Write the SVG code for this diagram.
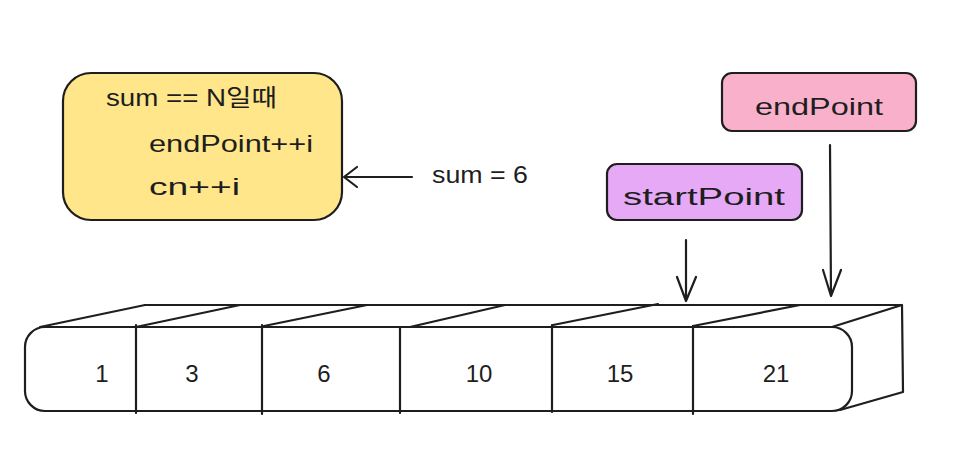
<svg xmlns="http://www.w3.org/2000/svg" width="958" height="472" viewBox="0 0 958 472">
<defs>
<style>
.s{stroke:#1e1e1e;stroke-width:2.2;fill:none;stroke-linecap:round;stroke-linejoin:round}
.t{font-family:"Liberation Sans","Noto Sans CJK KR",sans-serif;fill:#1e1e1e;font-size:24px}
.n{font-family:"Liberation Sans",sans-serif;fill:#1e1e1e;font-size:24px;text-anchor:middle}
</style>
</defs>
<rect width="958" height="472" fill="#ffffff"/>
<g id="note">
<rect x="63" y="73" width="279" height="147" rx="28" class="s" style="fill:#ffe68a"/>
<text class="t" x="106" y="106" textLength="171" lengthAdjust="spacingAndGlyphs">sum == N일때</text>
<text class="t" x="149" y="152" textLength="164" lengthAdjust="spacingAndGlyphs">endPoint++i</text>
<text class="t" x="149" y="195" textLength="91" lengthAdjust="spacingAndGlyphs">cn++i</text>
</g>
<g id="sumlabel">
<text class="t" x="432" y="183" textLength="96" lengthAdjust="spacingAndGlyphs">sum = 6</text>
</g>
<g id="endpoint">
<rect x="722" y="73" width="194" height="58" rx="10" class="s" style="fill:#f9b1cb"/>
<text class="t" x="755" y="115" textLength="128" lengthAdjust="spacingAndGlyphs">endPoint</text>
</g>
<g id="startpoint">
<rect x="607" y="164" width="195" height="56" rx="10" class="s" style="fill:#e6a9f6"/>
<text class="t" x="623" y="205" textLength="162" lengthAdjust="spacingAndGlyphs">startPoint</text>
</g>
<g id="array">
<path class="s" d="M145 305 L902 305 L903 392 M832 327 L902 305 M840 410 L903 392"/>
<path class="s" d="M40 327 L145 305 M136 327 L240 305 M264 326 L367 305 M410 327 L505 305 M553 325 L658 304 M693 326 L800 305"/>
<rect x="25" y="327" width="827" height="84" rx="20" class="s" style="fill:#ffffff"/>
<path class="s" d="M136 325 L136 413 M262 325 L262 414 M400 327 L400 413 M552 325 L552 412 M693 326 L693 414"/>
<text class="n" x="102" y="382">1</text>
<text class="n" x="192" y="382">3</text>
<text class="n" x="324" y="382">6</text>
<text class="n" x="479" y="382">10</text>
<text class="n" x="620" y="382">15</text>
<text class="n" x="776" y="382">21</text>
</g>
<g id="connectors">
<path class="s" d="M412 177 L344 177 M357 167 L344 177 L357 187"/>
<path class="s" d="M686 240 L686 301 M677 277 L686 301 L696 277"/>
<path class="s" d="M830 145 L831 296 M823 270 L831 296 L841 270"/>
</g>
</svg>
